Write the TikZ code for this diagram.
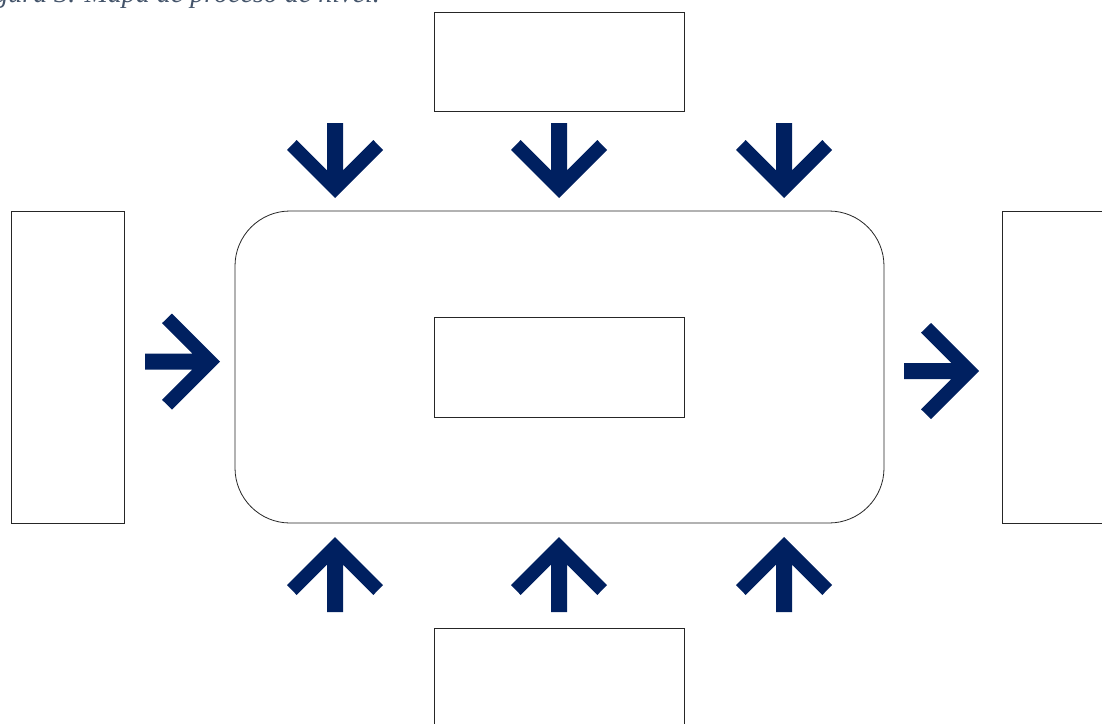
\documentclass[tikz,border=0pt]{standalone}
\usepackage{fontspec}
\newfontfamily\capfont{Liberation Serif}
\definecolor{arrowblue}{HTML}{002060}
\definecolor{captiongray}{HTML}{44546A}
\tikzset{
  x=1pt, y=1pt,
  box/.style={draw=black!85, line width=0.8pt, fill=white, inner sep=0pt, outer sep=0pt},
  captiontext/.style={font=\capfont\itshape\fontsize{28}{30}\selectfont, text=captiongray, inner sep=0pt},
  % block arrow with its tip at the pic origin, pointing down
  blockarrow/.pic={
    \fill[arrowblue] (0,0) -- (-48,48) -- (-38.3,58) -- (-8,27.7) -- (-8,75)
      -- (8,75) -- (8,27.7) -- (38.3,58) -- (48,48) -- cycle;
  }
}
\begin{document}
\begin{tikzpicture}
\useasboundingbox (0,0) rectangle (1102,-723);
\clip (0,0) rectangle (1102,-723);

% caption, mostly above the page edge
\node[captiontext, anchor=base east] (caption) at (380,-2) {Figura 3. Mapa de proceso de nivel.};

% process frame
\node[box, rounded corners=55pt, minimum width=649pt, minimum height=312pt] (process) at (559.5,-367) {};

% boxes
\node[box, minimum width=250pt, minimum height=99pt] (topbox) at (559,-61.5) {};
\node[box, minimum width=250pt, minimum height=100pt] (core) at (559,-367) {};
\node[box, minimum width=250pt, minimum height=112pt] (bottombox) at (559,-684) {};
\node[box, minimum width=113pt, minimum height=312pt] (inbox) at (67.5,-367) {};
\node[box, minimum width=118pt, minimum height=312pt] (outbox) at (1061,-367) {};

% arrows from above
\pic at (335,-198) {blockarrow};
\pic at (559,-198) {blockarrow};
\pic at (784,-198) {blockarrow};

% arrows from below
\pic[rotate=180] at (335,-537) {blockarrow};
\pic[rotate=180] at (559,-537) {blockarrow};
\pic[rotate=180] at (784,-537) {blockarrow};

% input and output arrows
\pic[rotate=90] at (220,-361.5) {blockarrow};
\pic[rotate=90] at (979,-371) {blockarrow};
\end{tikzpicture}
\end{document}
